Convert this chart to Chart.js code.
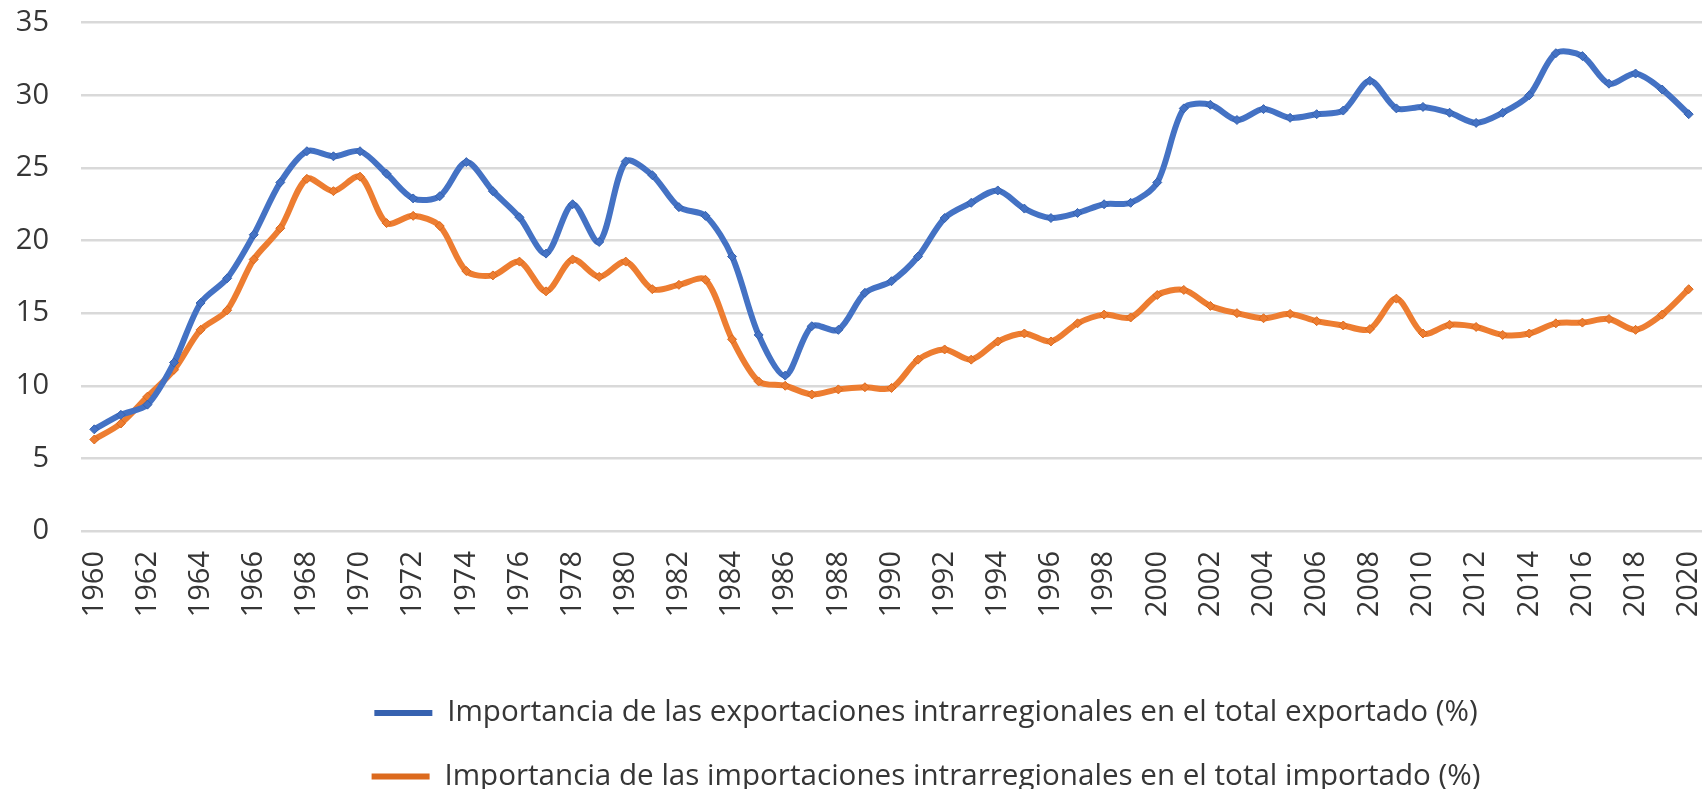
<!DOCTYPE html>
<html>
<head>
<meta charset="utf-8">
<script src="https://cdn.jsdelivr.net/npm/chart.js@4.4.1/dist/chart.umd.min.js"></script>
<style>
  html, body { margin: 0; padding: 0; background: #ffffff; }
  #wrap { width: 1708px; height: 789px; position: relative; }
</style>
</head>
<body>
<div id="wrap"><canvas id="chart"></canvas></div>
<script>
const years = [];
for (let y = 1960; y <= 2020; y++) years.push(String(y));

const xTickLabels = ['1960','1962','1964','1966','1968','1970','1972','1974','1976','1978','1980','1982','1984','1986','1988','1990','1992','1994','1996','1998','2000','2002','2004','2006','2008','2010','2012','2014','2016','2018','2020'];
const yTickValues = [0, 5, 10, 15, 20, 25, 30, 35];

const seriesNames = [
  'Importancia de las exportaciones intrarregionales en el total exportado (%)',
  'Importancia de las importaciones intrarregionales en el total importado (%)'
];

const exportsShare = [
  7.0, 8.0, 8.7, 11.6, 15.7, 17.4, 20.4, 24.0, 26.15, 25.8,
  26.15, 24.6, 22.9, 23.05, 25.4, 23.4, 21.6, 19.1, 22.5, 19.9,
  25.45, 24.5, 22.3, 21.7, 18.9, 13.5, 10.7, 14.1, 13.85, 16.4,
  17.2, 18.9, 21.55, 22.6, 23.45, 22.2, 21.55, 21.9, 22.5, 22.6,
  24.0, 29.1, 29.35, 28.3, 29.05, 28.45, 28.7, 28.95, 31.0, 29.1,
  29.2, 28.8, 28.1, 28.8, 30.0, 32.9, 32.7, 30.8, 31.5, 30.4,
  28.7
];

const importsShare = [
  6.3, 7.4, 9.25, 11.1, 13.85, 15.2, 18.7, 20.85, 24.25, 23.4,
  24.4, 21.2, 21.7, 21.0, 17.9, 17.6, 18.55, 16.5, 18.7, 17.5,
  18.55, 16.65, 16.95, 17.3, 13.2, 10.3, 10.0, 9.4, 9.75, 9.9,
  9.85, 11.8, 12.5, 11.8, 13.05, 13.6, 13.05, 14.3, 14.9, 14.7,
  16.25, 16.6, 15.5, 15.0, 14.65, 14.95, 14.45, 14.15, 13.9, 16.0,
  13.6, 14.2, 14.05, 13.5, 13.6, 14.3, 14.35, 14.6, 13.85, 14.9,
  16.65
];

const BLUE = '#4472C4';
const ORANGE = '#ED7D31';
const TEXT = '#363636';
const FONT = "'Open Sans', 'Liberation Sans', sans-serif";

const legendShift = {
  id: 'legendShift',
  afterLayout(chart) {
    const lg = chart.legend;
    if (lg) { lg.left += 67; lg.right += 67; }
  }
};

Chart.defaults.font.family = FONT;

new Chart(document.getElementById('chart'), {
  type: 'line',
  data: {
    labels: years,
    datasets: [
      {
        label: seriesNames[0],
        data: exportsShare,
        borderColor: BLUE,
        backgroundColor: BLUE,
        borderWidth: 6,
        tension: 0.3,
        pointStyle: 'rectRot',
        pointRadius: 4.5,
        pointBackgroundColor: BLUE,
        pointBorderColor: '#3662b0',
        pointBorderWidth: 1,
        fill: false
      },
      {
        label: seriesNames[1],
        data: importsShare,
        borderColor: ORANGE,
        backgroundColor: ORANGE,
        borderWidth: 6,
        tension: 0.3,
        pointStyle: 'rectRot',
        pointRadius: 4.5,
        pointBackgroundColor: ORANGE,
        pointBorderColor: '#dc6a1e',
        pointBorderWidth: 1,
        fill: false
      }
    ]
  },
  options: {
    responsive: true,
    maintainAspectRatio: false,
    animation: false,
    devicePixelRatio: 1,
    layout: { padding: { left: 16, right: 6, top: 0, bottom: -12.4 } },
    plugins: {
      tooltip: { enabled: false },
      legend: {
        position: 'bottom',
        align: 'center',
        labels: {
          usePointStyle: true,
          pointStyle: 'line',
          pointStyleWidth: 58,
          color: TEXT,
          padding: 34,
          font: { size: 29.6, family: FONT },
          generateLabels(chart) {
            const items = Chart.defaults.plugins.legend.labels.generateLabels(chart);
            items.forEach(it => { it.lineWidth = 6; it.pointStyle = 'line'; });
            return items;
          }
        }
      }
    },
    scales: {
      x: {
        type: 'category',
        offset: true,
        grid: { display: false, drawTicks: false },
        border: { display: false },
        ticks: {
          autoSkip: false,
          maxRotation: 90,
          minRotation: 90,
          padding: 20,
          color: TEXT,
          font: { size: 29, family: FONT },
          callback: function(value) {
            const lab = this.getLabelForValue(value);
            return xTickLabels.includes(lab) ? lab : '';
          }
        },
        afterFit(scale) {
          scale.height = 133.2;
          scale.paddingLeft = 0;
          scale.paddingRight = 0;
        }
      },
      y: {
        min: 0,
        max: 35,
        grid: { color: '#D9D9D9', lineWidth: 2.5, drawTicks: false },
        border: { display: false },
        afterBuildTicks(scale) { scale.ticks = yTickValues.map(v => ({ value: v })); },
        ticks: {
          padding: 32,
          color: TEXT,
          font: { size: 29, family: FONT }
        },
        afterFit(scale) {
          scale.width = 65;
          scale.paddingTop = 22.7;
          scale.paddingBottom = 0;
        }
      }
    }
  },
  plugins: [legendShift]
});
</script>
</body>
</html>
